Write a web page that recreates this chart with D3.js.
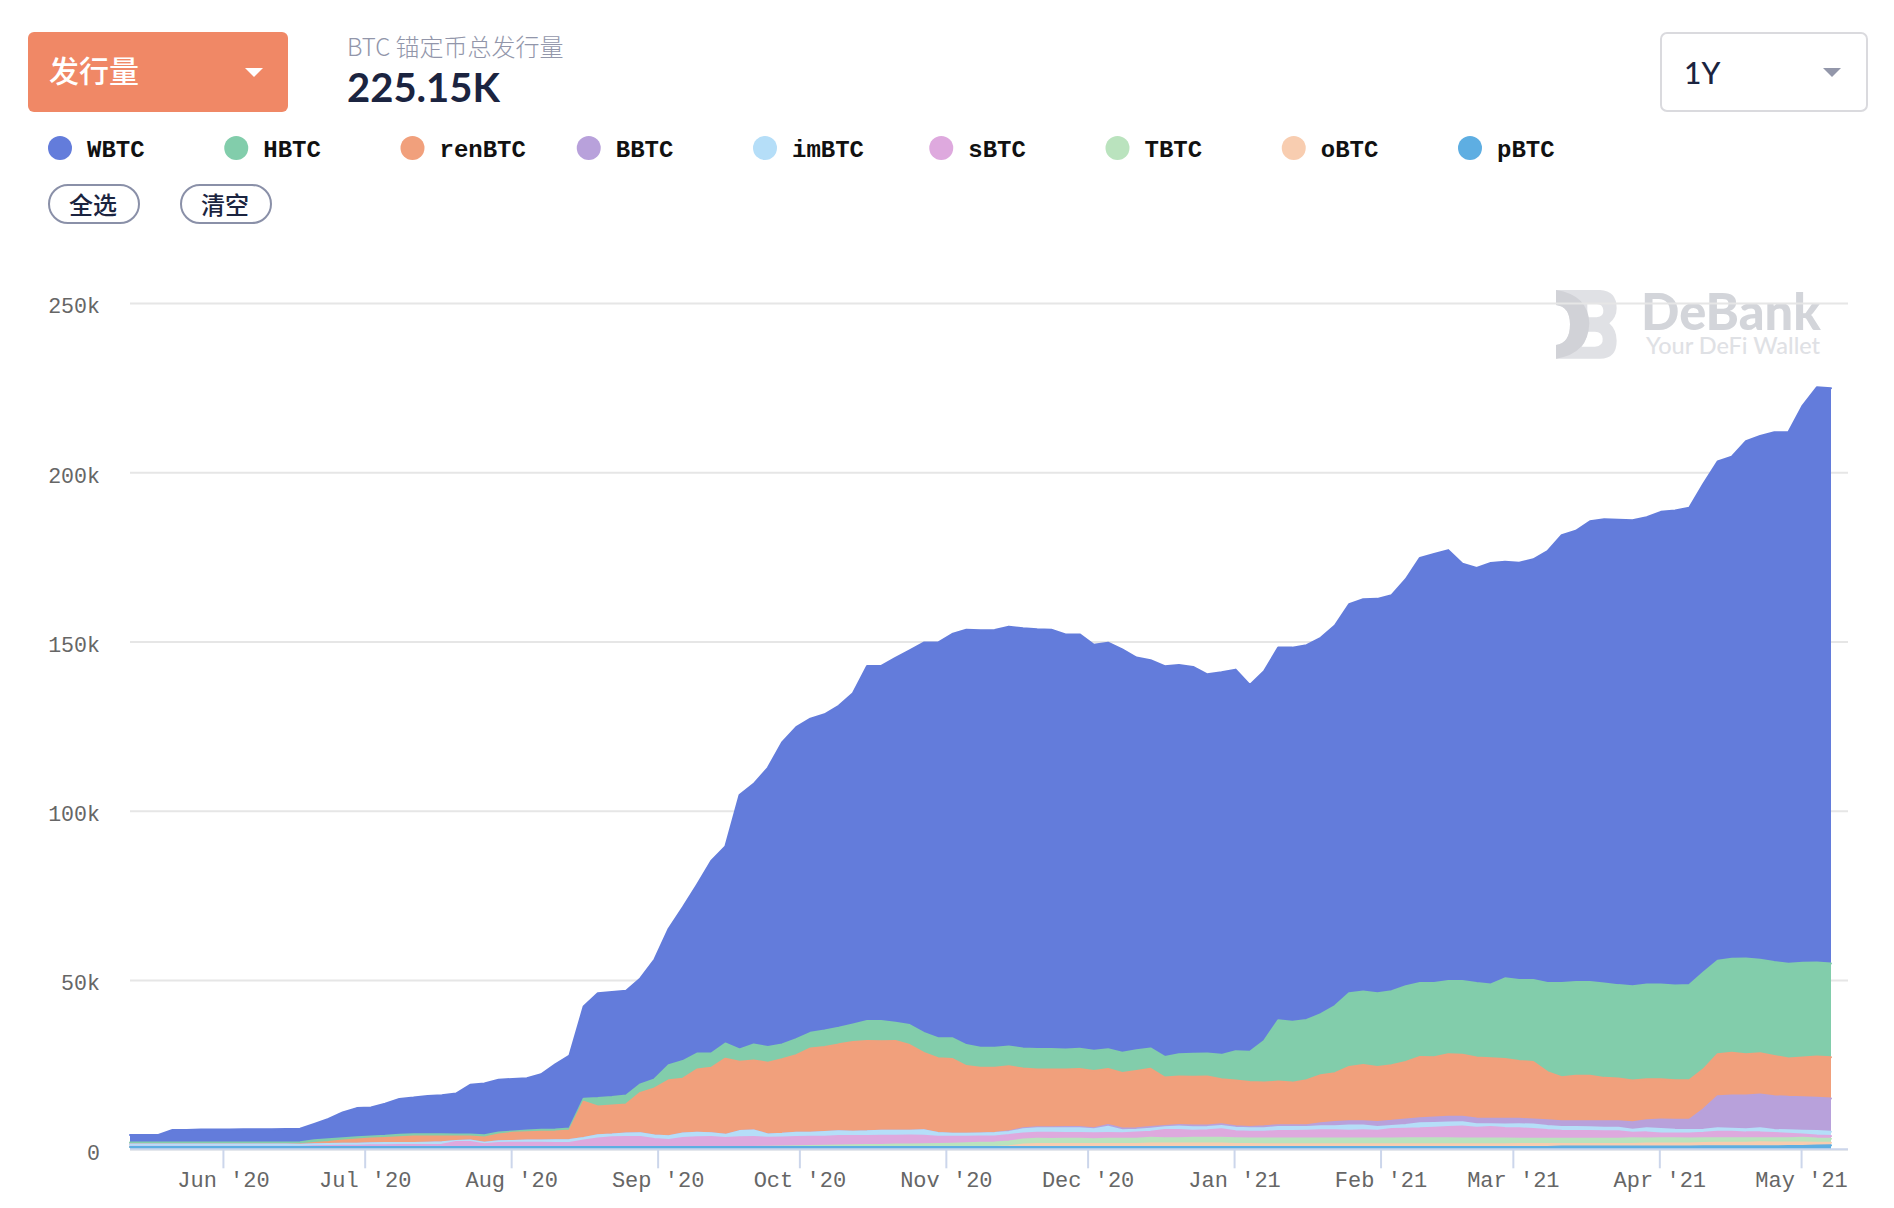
<!DOCTYPE html>
<html>
<head>
<meta charset="utf-8">
<script src="https://cdn.jsdelivr.net/npm/d3@7/dist/d3.min.js"></script>
<style>
    body { margin: 0; background: #fff; }
    svg { display: block; }
    .cjk { font-family: "Noto Sans CJK SC", sans-serif; }
    .lato { font-family: Lato, sans-serif; }
    .mono { font-family: "Liberation Mono", monospace; }
</style>
</head>
<body>
<div id="chart"></div>
<script>
//series names, top of the stack first
var seriesNames = ["WBTC", "HBTC", "renBTC", "BBTC", "imBTC", "sBTC", "TBTC", "oBTC", "pBTC"];
var seriesColors = ["#637cdb", "#82cdab", "#f1a07c", "#b8a1db", "#b5def8", "#dea9de", "#bae3be", "#f8cdb0", "#5eaee2"];

//tick values
var yTicks = [0, 50, 100, 150, 200, 250];
var xTicks = [[2020, 5], [2020, 6], [2020, 7], [2020, 8], [2020, 9], [2020, 10], [2020, 11],
              [2021, 0], [2021, 1], [2021, 2], [2021, 3], [2021, 4]];

//supply in thousands of BTC, one reading every 3 days from 12 May 2020
var WBTC = [2.2,2.2,2.2,3.7,3.7,3.8,3.8,3.8,3.9,3.9,
    3.9,4.0,4.0,4.8,6.0,7.6,8.6,8.6,9.5,10.6,
    10.8,11.3,11.5,12.1,14.7,15.3,15.6,15.5,15.4,16.4,
    19.2,21.5,27.2,30.9,31,31,31.3,35.4,40.3,45.4,
    49.9,56.9,58.2,75.2,77,82.5,89.2,92.2,92.8,93.4,
    95.1,97.8,104.9,104.9,107.8,110.7,115.3,116.9,119.4,122.7,
    123.3,123.4,124,124.1,124,123.9,122.6,122.4,119.9,120.1,
    119.1,116,114.7,115.4,115,114.3,112,113,112.7,108.4,
    109.2,110.1,110.5,110.7,111.2,112.4,114.9,115.9,116.5,117,
    120.2,125.6,126.8,127.3,123.3,122.6,124.5,123.1,123.3,124.3,
    127.6,132.3,133.3,136.1,137.1,137.5,137.6,138,139.6,140.3,
    141,144.4,147.5,148.3,152.8,154.7,156.5,157.1,164.6,169.9,
    169.95];
var HBTC = [.55,.55,.55,.55,.55,.55,.55,.55,.55,.55,
    .55,.55,.6,.8,.8,.7,.7,.6,.6,.7,
    .7,.7,.7,.6,.6,.7,.6,.4,.5,.6,
    .6,.6,.9,2.5,2.5,2.6,2.5,2.7,4.5,5.2,
    4.7,4.2,4.5,3.6,4.7,4.6,4.4,4.7,4.6,4.9,
    4.9,5.2,5.9,6,5.4,5.9,5.9,5.9,6.1,6.2,
    5.9,5.9,5.9,5.9,6,6,5.9,6,6,5.8,
    6,6.1,6,6.1,6.6,6.8,6.8,7.2,8.7,8.9,
    12.3,18.1,18,17.8,18,19.8,21.8,21.7,21.8,21.9,
    22.4,21.8,21.9,21.6,21.8,22,21.8,23.8,23.9,24.2,
    26.3,27.8,27.7,27.7,27.9,27.6,27.9,28,28,28,
    28.1,28.6,27.6,27.8,28.3,27.6,27.7,28,28,27.8,
    27.7];
var renBTC = [.05,.05,.05,.05,.05,.05,.05,.05,.05,.05,
    .05,.05,.1,.4,.6,.9,1.2,1.4,1.5,1.7,
    1.9,1.8,1.7,1.3,1.2,1.5,2,2.4,2.5,2.6,
    2.6,2.8,10.7,8.5,8.6,8.6,11.9,13.9,16.5,16.2,
    18.7,19.3,22.5,20.5,20.7,21.2,22,22.9,24.9,25.1,
    25.7,26.5,26.7,26.4,26.5,25.3,22.9,22.1,22.1,20,
    19.4,19.3,19.2,17.7,17.1,17.1,17,17.1,16.9,16.6,
    16.4,16.9,17.2,14.3,14.3,14.4,14.5,13.3,13.5,13.3,
    12.9,12.9,12.6,13.3,14.2,14.4,16,16.6,16.2,16.4,
    17,18.1,17.8,18.5,18.3,18,17.9,17.7,17.1,17,
    14.2,13,13.4,13.4,12.8,12.6,12.3,12.1,11.9,11.7,
    11.7,11.8,12.4,12.6,12.2,12.2,11.9,11.3,11.7,12.2,
    12.2];
var BBTC = [0,0,0,0,0,0,0,0,0,0,
    0,0,0,0,0,0,0,0,0,0,
    0,0,0,0,0,0,0,0,0,0,
    0,0,0,0,0,0,0,0,0,0,
    0,0,0,0,0,0,0,0,0,0,
    0,0,0,0,0,0,0,0,0,0,
    0,0,.2,.3,.3,.3,.4,.4,.3,.5,
    .5,.5,.5,.4,.5,.5,.4,.5,.4,.4,
    .6,.5,.5,.5,.9,1.3,1.3,1.3,1.5,1.5,
    1.6,1.5,1.6,1.7,1.6,1.7,1.6,1.7,1.6,1.5,
    1.7,1.7,1.7,1.8,1.9,1.9,2.2,2.4,2.8,2.9,
    3,6,9.5,9.8,10,10,10,9.9,9.9,9.8,
    9.8];
var imBTC = [.7,.7,.7,.7,.7,.7,.7,.7,.7,.7,
    .7,.7,.6,.6,.6,.6,.6,.6,.7,.6,
    .6,.7,.7,.3,.4,.5,.5,.5,.6,.6,
    .8,.9,.8,1,.8,1,1.1,1,1.1,1.3,
    1.3,1.1,.9,1.8,1.9,1,1.1,1.3,1.2,1.4,
    1.4,1.3,1.4,1.5,1.5,1.4,1.6,1.1,.9,.9,
    .9,1,.9,1.2,1.3,1.3,1.4,1.4,1.2,1.8,
    .9,.8,.9,.8,1,1,1,1,1.1,1,
    1,1.2,1.2,1.1,1.2,1.2,1.5,1.4,1.1,.9,
    1.1,1.5,1.4,1.3,1.3,1,.8,1,1.2,1.3,
    1.2,1.1,1.2,1.1,1.1,1.1,.9,1.2,1.3,1.1,
    1,.9,1,.9,.9,1.2,.9,1,1.1,1.3,
    1.3];
var sBTC = [.05,.05,.05,.05,.05,.05,.05,.05,.05,.05,
    .05,.05,.1,.2,.3,.4,.4,.5,.5,.6,
    .6,.6,.7,1.5,1.5,.8,1.2,1.3,1.3,1.3,
    1.2,1.2,1.9,2.5,2.9,3,3,2.4,2.1,2.7,
    2.9,3,2.7,2.9,3,2.65,2.7,2.7,2.7,2.65,
    2.8,2.7,2.65,2.7,2.6,2.65,2.5,2.15,2.05,1.9,
    1.9,1.8,1.9,1.8,1.8,1.85,1.7,1.7,1.8,1.7,
    1.6,1.8,1.8,2.4,2.4,2.1,2.2,2.5,2,2,
    2,2.2,2.2,2.3,2.4,2.4,2.3,2.4,2.3,2.8,
    2.8,2.9,3.1,3.3,3.5,3.2,3.4,3.1,3.1,2.9,
    2.6,2.4,2.3,2.3,2.2,2.2,1.6,1.8,1.4,1.4,
    1.5,1.6,1.9,1.9,1.7,1.7,1.5,1.3,1,.9,
    .8];
var TBTC = [0,0,0,0,0,0,0,0,0,0,
    0,0,0,0,0,0,0,0,0,0,
    0,0,0,0,0,0,0,0,0,0,
    0,0,0,0,0,0,0,0,0,0,
    0,0,0,0,0,.08,.13,.23,.33,.38,
    .43,.53,.58,.63,.73,.78,.83,.88,.98,1.13,
    1.23,1.33,1.4,1.5,1.5,1.5,1.55,1.55,1.4,1.6,
    1.6,1.6,1.7,1.55,1.55,1.65,1.65,1.7,1.7,1.6,
    1.7,1.7,1.7,1.7,1.7,1.7,1.7,1.7,1.7,1.7,
    1.8,1.8,1.8,1.8,1.7,1.7,1.7,1.7,1.55,1.55,
    1.55,1.55,1.55,1.55,1.55,1.55,1.7,1.5,1.55,1.55,
    1.45,1.45,1.35,1.35,1.35,1.25,1.3,1.3,1.4,1.25,
    1.15];
var oBTC = [0,0,0,0,0,0,0,0,0,0,
    0,0,0,0,0,0,0,0,0,0,
    0,0,0,0,0,0,0,0,0,0,
    0,0,0,0,0,0,0,0,0,0,
    0,0,0,0,0,0,0,0,0,0,
    0,0,0,0,0,0,0,0,0,0,
    0,0,.23,.73,.93,.88,.88,.88,.88,.88,
    .88,.88,1.03,1.08,1.08,1.08,1.08,1.03,.93,.93,
    .83,.83,.83,.83,.83,.83,.83,.83,.83,.83,
    .83,.83,.83,.83,.83,.83,.8,.8,.85,.85,
    .85,.75,.75,.75,.75,.75,.8,.9,.95,.95,
    .95,.98,1.08,1.08,1.08,1.18,1.13,1,1,.85,
    .79];
var pBTC = [.67,.67,.67,.67,.67,.67,.67,.67,.67,.67,
    .67,.67,.67,.67,.67,.67,.67,.67,.67,.67,
    .67,.67,.67,.67,.67,.67,.67,.67,.67,.67,
    .67,.67,.67,.67,.67,.67,.67,.67,.67,.67,
    .67,.67,.67,.67,.67,.67,.67,.67,.67,.67,
    .67,.67,.67,.67,.67,.67,.67,.67,.67,.67,
    .67,.67,.67,.67,.67,.67,.67,.67,.67,.67,
    .67,.67,.67,.67,.67,.67,.67,.67,.67,.67,
    .67,.67,.67,.67,.67,.67,.67,.67,.67,.67,
    .67,.67,.67,.67,.67,.67,.7,.7,.7,.7,
    .7,.8,.8,.8,.8,.8,.8,.8,.8,.8,
    .8,.87,.87,.87,.87,.87,.87,1,1,1.1,
    1.16];

var seriesValues = [WBTC, HBTC, renBTC, BBTC, imBTC, sBTC, TBTC, oBTC, pBTC];

function init() {
    //svg width and height
    var w = 1894;
    var h = 1208;

    //plot edges
    var left = 130;
    var lastPoint = 1831;
    var right = 1848;
    var top = 303;
    var bottom = 1149.3;

    //one row per date for the stack layout
    var firstDay = new Date(2020, 4, 12, 8);
    var rows = WBTC.map(function (v, i) {
        var row = {date: d3.timeDay.offset(firstDay, i * 3)};
        seriesNames.forEach(function (name, s) {
            row[name] = seriesValues[s][i];
        });
        return row;
    });

    var xScale = d3.scaleTime()
        .domain(d3.extent(rows, function (d) { return d.date; }))
        .range([left, lastPoint]);

    var yScale = d3.scaleLinear()
        .domain([0, 250])
        .range([bottom, top]);

    //pBTC sits at the bottom of the stack
    var stack = d3.stack().keys(seriesNames.slice().reverse());
    var layers = stack(rows);

    var area = d3.area()
        .x(function (d) { return xScale(d.data.date); })
        .y0(function (d) { return yScale(d[0]); })
        .y1(function (d) { return yScale(d[1]); });

    var line = d3.line()
        .x(function (d) { return xScale(d.data.date); })
        .y(function (d) { return yScale(d[1]); });

    var svg = d3.select("#chart")
        .append("svg")
        .attr("width", w)
        .attr("height", h);

    drawHeader(svg);
    drawLegend(svg);
    drawWatermark(svg);

    //gridlines and y axis labels
    var yAxis = svg.append("g")
        .attr("transform", "translate(" + left + ",0)")
        .call(d3.axisLeft(yScale)
            .tickValues(yTicks)
            .tickSize(-(right - left))
            .tickPadding(30)
            .tickFormat(function (d) { return d === 0 ? "0" : d + "k"; }));
    yAxis.select(".domain").remove();
    yAxis.selectAll("line").attr("stroke", "#e6e6e6").attr("stroke-width", 2);
    yAxis.selectAll("text")
        .attr("class", "mono")
        .attr("dy", "0.46em")
        .attr("fill", "#666")
        .style("font-size", "21.6px");

    //layers from the top of the stack down, so lower lines stay in front
    layers.slice().reverse().forEach(function (layer) {
        var color = seriesColors[seriesNames.indexOf(layer.key)];
        svg.append("path")
            .datum(layer)
            .attr("d", area)
            .attr("fill", color);
        svg.append("path")
            .datum(layer)
            .attr("d", line)
            .attr("fill", "none")
            .attr("stroke", color)
            .attr("stroke-width", 2)
            .attr("stroke-linecap", "round")
            .attr("stroke-linejoin", "round");
    });

    //x axis with month ticks
    var xAxis = svg.append("g")
        .attr("transform", "translate(0," + bottom + ")")
        .call(d3.axisBottom(xScale)
            .tickValues(xTicks.map(function (t) { return new Date(t[0], t[1], 1); }))
            .tickSize(19)
            .tickPadding(3)
            .tickFormat(d3.timeFormat("%b '%y")));
    xAxis.select(".domain").remove();
    xAxis.selectAll("line").attr("stroke", "#ccd6eb").attr("stroke-width", 2);
    xAxis.selectAll("text")
        .attr("class", "mono")
        .attr("fill", "#666")
        .style("font-size", "22px");
    xAxis.append("line")
        .attr("x1", left)
        .attr("x2", right)
        .attr("stroke", "#ccd6eb")
        .attr("stroke-width", 2);
}

//button, total and range selector
function drawHeader(svg) {
    svg.append("rect")
        .attr("x", 28).attr("y", 32)
        .attr("width", 260).attr("height", 80)
        .attr("rx", 6)
        .attr("fill", "#f08866");
    svg.append("text")
        .attr("class", "cjk")
        .attr("x", 49).attr("y", 82)
        .attr("fill", "#fff")
        .style("font-size", "30px")
        .style("font-weight", 500)
        .text("发行量");
    svg.append("path")
        .attr("d", "M245,68 L263,68 L254,77 Z")
        .attr("fill", "#fff");

    svg.append("text")
        .attr("class", "cjk")
        .attr("x", 347).attr("y", 56)
        .attr("fill", "#9296aa")
        .style("font-size", "24px")
        .style("font-weight", 300)
        .text("BTC 锚定币总发行量");
    svg.append("text")
        .attr("class", "lato")
        .attr("x", 347).attr("y", 102)
        .attr("fill", "#1b2440")
        .style("font-size", "40px")
        .style("font-weight", 700)
        .text("225.15K");

    svg.append("rect")
        .attr("x", 1661).attr("y", 33)
        .attr("width", 206).attr("height", 78)
        .attr("rx", 6)
        .attr("fill", "#fff")
        .attr("stroke", "#dadade")
        .attr("stroke-width", 2);
    svg.append("text")
        .attr("class", "lato")
        .attr("x", 1684).attr("y", 84)
        .attr("fill", "#1b2440")
        .style("font-size", "30px")
        .style("font-weight", 500)
        .text("1Y");
    svg.append("path")
        .attr("d", "M1823,68 L1841,68 L1832,77 Z")
        .attr("fill", "#9397aa");
}

//legend dots and the two pill buttons
function drawLegend(svg) {
    var legendX = d3.scalePoint()
        .domain(seriesNames)
        .range([60, 1470]);

    seriesNames.forEach(function (name, i) {
        svg.append("circle")
            .attr("cx", legendX(name))
            .attr("cy", 148)
            .attr("r", 12)
            .attr("fill", seriesColors[i]);
        svg.append("text")
            .attr("class", "mono")
            .attr("x", legendX(name) + 27)
            .attr("y", 157)
            .attr("fill", "#111")
            .style("font-size", "24px")
            .style("font-weight", 700)
            .text(name);
    });

    [{x: 49, label: "全选"}, {x: 181, label: "清空"}].forEach(function (b) {
        svg.append("rect")
            .attr("x", b.x).attr("y", 185)
            .attr("width", 90).attr("height", 38)
            .attr("rx", 19)
            .attr("fill", "#fff")
            .attr("stroke", "#8a90a8")
            .attr("stroke-width", 2);
        svg.append("text")
            .attr("class", "cjk")
            .attr("x", b.x + 44).attr("y", 214)
            .attr("text-anchor", "middle")
            .attr("fill", "#1b2440")
            .style("font-size", "24px")
            .style("font-weight", 500)
            .text(b.label);
    });
}

//DeBank logo and wordmark behind the plot
function drawWatermark(svg) {
    var logo = svg.append("g").attr("transform", "translate(1550,280) scale(0.3333)");
    logo.append("path")
        .attr("d", "M18,30 L150,30 Q200,32 200,85 Q200,112 178,130 Q200,150 200,182 Q200,236 150,236 L18,236 L18,195 Q60,190 60,133 Q60,80 18,75 Z M112,72 L112,112 L140,112 Q162,110 160,90 Q158,72 140,72 Z M112,155 Q110,180 95,200 L135,200 Q160,198 158,176 Q156,155 135,155 Z")
        .attr("fill", "#e0e1e5")
        .attr("fill-rule", "evenodd");
    logo.append("path")
        .attr("d", "M18,30 Q115,45 118,130 Q115,222 18,236 L18,195 Q60,190 60,133 Q60,80 18,75 Z")
        .attr("fill", "#d1d2d7");

    svg.append("text")
        .attr("class", "lato")
        .attr("x", 1641).attr("y", 330)
        .attr("fill", "#d3d5da")
        .style("font-size", "50.5px")
        .style("font-weight", 900)
        .text("DeBank");
    svg.append("text")
        .attr("class", "lato")
        .attr("x", 1646).attr("y", 354)
        .attr("fill", "#dfe1e5")
        .style("font-size", "23.5px")
        .style("font-weight", 500)
        .text("Your DeFi Wallet");
}

window.onload = init
</script>
</body>
</html>
